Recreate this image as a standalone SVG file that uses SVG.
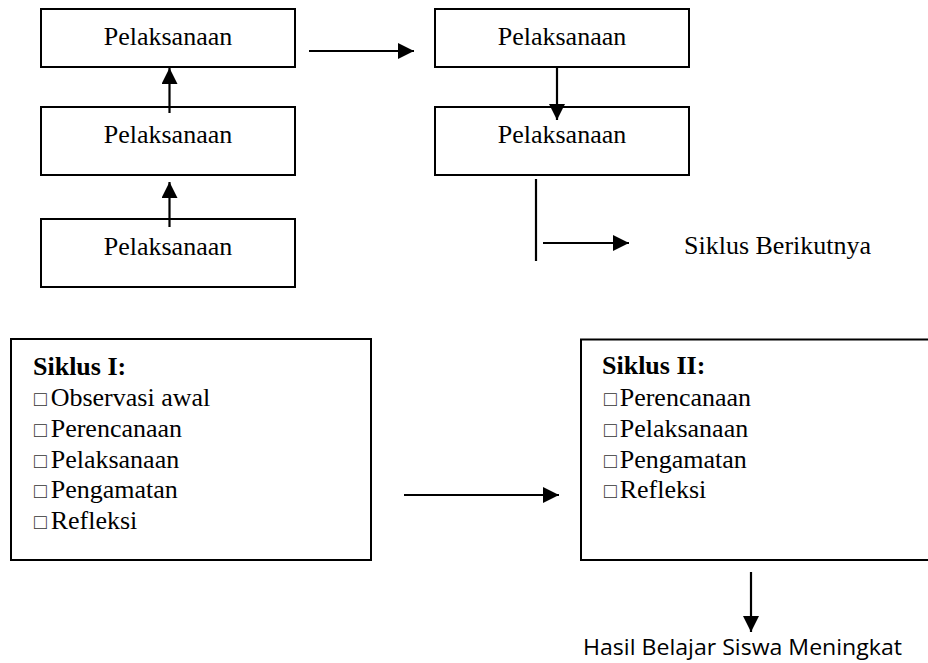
<svg xmlns="http://www.w3.org/2000/svg" width="928" height="663" viewBox="0 0 928 663">
<style>
.box{fill:#fff;stroke:#000;stroke-width:2}
.t{font-family:"Liberation Serif","Times New Roman","DejaVu Serif",serif;font-size:26px;fill:#000}
.c{text-anchor:middle}
.b{font-weight:bold}
.q{font-size:21px;fill:#333}
.ln{stroke:#000;stroke-width:2.2;fill:none}
.s{font-family:"Open Sans","Noto Sans","Liberation Sans",sans-serif;font-size:21px;fill:#000}
</style>
<defs>
<marker id="ah" markerUnits="userSpaceOnUse" markerWidth="17" markerHeight="17" refX="16" refY="8" orient="auto">
<path d="M0,0 L16,8 L0,16 z" fill="#000"/>
</marker>
</defs>
<g id="n1"><rect class="box" x="41" y="9" width="254" height="58"/><text class="t c" x="168" y="45">Pelaksanaan</text></g>
<g id="n2"><rect class="box" x="41" y="107" width="254" height="68"/><text class="t c" x="168" y="143">Pelaksanaan</text></g>
<g id="n3"><rect class="box" x="41" y="219" width="254" height="68"/><text class="t c" x="168" y="255">Pelaksanaan</text></g>
<g id="n4"><rect class="box" x="435" y="9" width="254" height="58"/><text class="t c" x="562" y="45">Pelaksanaan</text></g>
<g id="n5"><rect class="box" x="435" y="107" width="254" height="68"/><text class="t c" x="562" y="143">Pelaksanaan</text></g>
<g id="next"><text class="t" x="684" y="254">Siklus Berikutnya</text></g>
<g id="siklus1"><rect class="box" x="11" y="339" width="360" height="221"/>
<text class="t b" x="33" y="375">Siklus I:</text>
<text class="t" x="34" y="406"><tspan class="q">□</tspan><tspan dx="4">Observasi awal</tspan></text>
<text class="t" x="34" y="437"><tspan class="q">□</tspan><tspan dx="4">Perencanaan</tspan></text>
<text class="t" x="34" y="468"><tspan class="q">□</tspan><tspan dx="4">Pelaksanaan</tspan></text>
<text class="t" x="34" y="498"><tspan class="q">□</tspan><tspan dx="4">Pengamatan</tspan></text>
<text class="t" x="34" y="529"><tspan class="q">□</tspan><tspan dx="4">Refleksi</tspan></text>
</g>
<g id="siklus2"><rect class="box" x="581" y="339.5" width="360" height="220.5"/>
<text class="t b" x="602" y="374">Siklus II:</text>
<text class="t" x="604" y="406"><tspan class="q">□</tspan><tspan dx="3">Perencanaan</tspan></text>
<text class="t" x="604" y="437"><tspan class="q">□</tspan><tspan dx="3">Pelaksanaan</tspan></text>
<text class="t" x="604" y="468"><tspan class="q">□</tspan><tspan dx="3">Pengamatan</tspan></text>
<text class="t" x="604" y="498"><tspan class="q">□</tspan><tspan dx="3">Refleksi</tspan></text>
</g>
<g id="hasil"><text class="s" x="583" y="655" textLength="319" lengthAdjust="spacingAndGlyphs">Hasil Belajar Siswa Meningkat</text></g>
<g id="connectors">
<line class="ln" x1="169.5" y1="227" x2="169.5" y2="182" marker-end="url(#ah)"/>
<line class="ln" x1="169.5" y1="113" x2="169.5" y2="68" marker-end="url(#ah)"/>
<line class="ln" x1="309" y1="51" x2="414" y2="51" marker-end="url(#ah)"/>
<line class="ln" x1="557" y1="67" x2="557" y2="120" marker-end="url(#ah)"/>
<line class="ln" x1="536" y1="179" x2="536" y2="261"/>
<line class="ln" x1="543" y1="243" x2="629" y2="243" marker-end="url(#ah)"/>
<line class="ln" x1="404" y1="495" x2="559" y2="495" marker-end="url(#ah)"/>
<line class="ln" x1="751" y1="572" x2="751" y2="632" marker-end="url(#ah)"/>
</g>
</svg>
